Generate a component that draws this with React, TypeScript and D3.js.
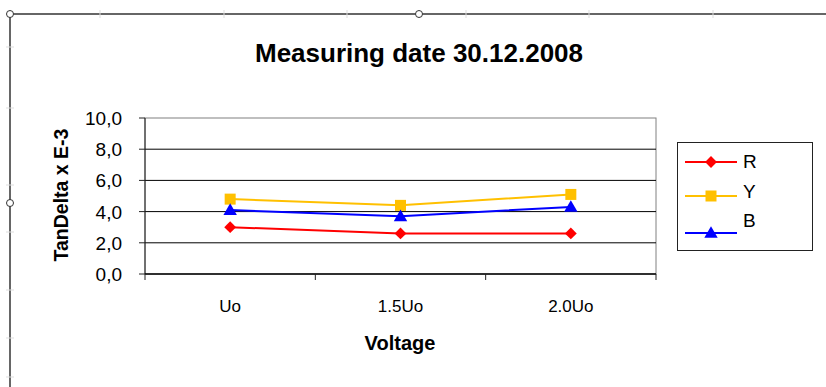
import React from "react";
import * as d3 from "d3";

const categories = ["Uo", "1.5Uo", "2.0Uo"];
const seriesNames = ["R", "Y", "B"];
const valuesR = [3.0, 2.6, 2.6];
const valuesY = [4.8, 4.4, 5.1];
const valuesB = [4.1, 3.7, 4.3];
const yTicks = [0, 2, 4, 6, 8, 10];
const titleText = "Measuring date 30.12.2008";
const xTitle = "Voltage";
const yTitle = "TanDelta x E-3";

const colors = ["#ff0000", "#ffc000", "#0000ff"];

const W = 826;
const H = 387;
const plot = { left: 145, right: 656, top: 118, bottom: 274 };

function fmt(v: number) {
  return v.toFixed(1).replace(".", ",");
}

function Marker({ i, x, y }: { i: number; x: number; y: number }) {
  if (i === 0) {
    const p = d3.symbol().type(d3.symbolSquare).size(70)();
    return <path d={p || ""} transform={`translate(${x},${y}) rotate(45)`} fill={colors[i]} />;
  }
  if (i === 1) {
    const p = d3.symbol().type(d3.symbolSquare).size(121)();
    return <path d={p || ""} transform={`translate(${x},${y})`} fill={colors[i]} />;
  }
  const p = d3.symbol().type(d3.symbolTriangle).size(78)();
  return <path d={p || ""} transform={`translate(${x},${y + 1})`} fill={colors[i]} />;
}

export default function App() {
  const series = [valuesR, valuesY, valuesB];
  const x = d3.scaleBand<string>().domain(categories).range([plot.left, plot.right]).padding(0);
  const y = d3.scaleLinear().domain([0, 10]).range([plot.bottom, plot.top]);
  const cx = (c: string) => (x(c) as number) + x.bandwidth() / 2;
  const line = d3
    .line<number>()
    .x((_, i) => cx(categories[i]))
    .y((d) => y(d));
  const boundaries = [...categories.map((c) => x(c) as number), plot.right];
  const font = "Arial, 'Liberation Sans', sans-serif";
  const topTicks = [100, 224, 347, 466, 589, 713];
  const leftTicks = [47, 108, 185, 232, 290, 338, 377];

  const legendY = [162, 196, 233];
  const legendTextY = [168, 198, 227];

  return (
    <svg
      width={W}
      height={H}
      style={{ position: "absolute", left: 0, top: 0, background: "#fff" }}
      fontFamily={font}
    >
      <rect x={0} y={0} width={W} height={H} fill="#fff" />
      {/* outer frame */}
      <line x1={10} y1={14} x2={W} y2={14} stroke="#333" strokeWidth={1.5} />
      <line x1={10} y1={14} x2={10} y2={H} stroke="#333" strokeWidth={1.5} />
      {topTicks.map((t) => (
        <line key={"tt" + t} x1={t} x2={t} y1={10} y2={18} stroke="#ddd" strokeWidth={1} />
      ))}
      {leftTicks.map((t) => (
        <line key={"lt" + t} x1={6} x2={14} y1={t} y2={t} stroke="#ddd" strokeWidth={1} />
      ))}
      <circle cx={10} cy={14} r={3.5} fill="#fff" stroke="#333" strokeWidth={1} />
      <circle cx={419} cy={14} r={3.5} fill="#fff" stroke="#333" strokeWidth={1} />
      <circle cx={10} cy={203} r={3.5} fill="#fff" stroke="#333" strokeWidth={1} />

      {/* title */}
      <text x={419} y={62} textAnchor="middle" fontSize={26} fontWeight="bold" fill="#000">
        {titleText}
      </text>

      {/* plot area border */}
      <rect
        x={plot.left}
        y={plot.top}
        width={plot.right - plot.left}
        height={plot.bottom - plot.top}
        fill="#fff"
        stroke="#808080"
        strokeWidth={1}
      />
      {/* gridlines */}
      {yTicks
        .filter((t) => t > 0 && t < 10)
        .map((t) => (
          <line key={"g" + t} x1={plot.left} x2={plot.right} y1={y(t)} y2={y(t)} stroke="#000" strokeWidth={1} />
        ))}
      {/* axes */}
      <line x1={plot.left} x2={plot.left} y1={plot.top} y2={plot.bottom} stroke="#222" strokeWidth={1} />
      <line x1={plot.left} x2={plot.right} y1={plot.bottom} y2={plot.bottom} stroke="#000" strokeWidth={1.5} />
      {yTicks.map((t) => (
        <g key={"yt" + t}>
          <line x1={plot.left - 6} x2={plot.left} y1={y(t)} y2={y(t)} stroke="#222" />
          <text x={122} y={y(t) + 7} textAnchor="end" fontSize={19} fill="#000">
            {fmt(t)}
          </text>
        </g>
      ))}
      {boundaries.map((b, i) => (
        <line key={"xt" + i} x1={b} x2={b} y1={plot.bottom} y2={plot.bottom + 6} stroke="#222" />
      ))}
      {categories.map((c) => (
        <text key={"xl" + c} x={cx(c)} y={312} textAnchor="middle" fontSize={17} fill="#000">
          {c}
        </text>
      ))}
      <text x={400} y={350} textAnchor="middle" fontSize={20} fontWeight="bold" fill="#000">
        {xTitle}
      </text>
      <text
        transform={`translate(68,195) rotate(-90)`}
        textAnchor="middle"
        fontSize={19.5}
        fontWeight="bold"
        fill="#000"
      >
        {yTitle}
      </text>

      {/* series */}
      {series.map((vals, i) => (
        <g key={"s" + i}>
          <path d={line(vals) || ""} fill="none" stroke={colors[i]} strokeWidth={2} />
          {vals.map((v, j) => (
            <Marker key={j} i={i} x={cx(categories[j])} y={y(v)} />
          ))}
        </g>
      ))}

      {/* legend */}
      <rect x={677.5} y={142.5} width={135} height={108} fill="#fff" stroke="#222" strokeWidth={1} />
      {seriesNames.map((n, i) => (
        <g key={"lg" + n}>
          <line x1={685} x2={737} y1={legendY[i]} y2={legendY[i]} stroke={colors[i]} strokeWidth={2} />
          <Marker i={i} x={711} y={legendY[i]} />
          <text x={743} y={legendTextY[i]} fontSize={19} fill="#000">
            {n}
          </text>
        </g>
      ))}
    </svg>
  );
}
